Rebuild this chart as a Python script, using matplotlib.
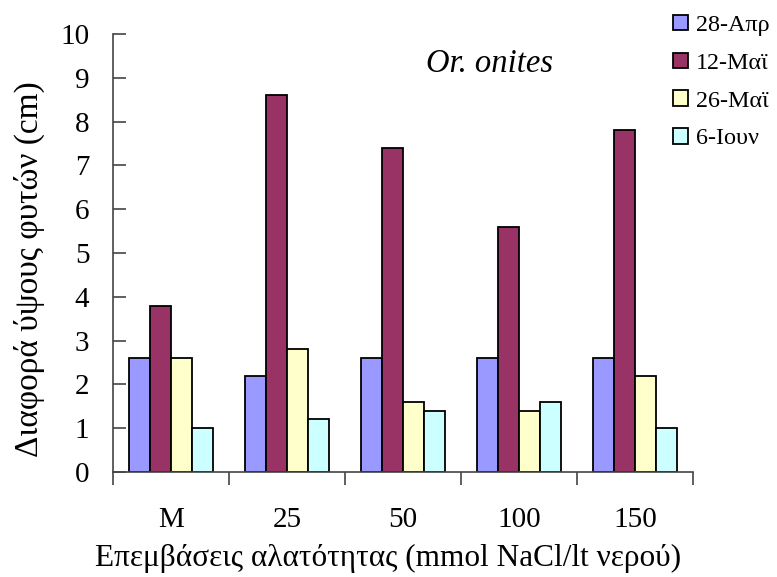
import matplotlib
matplotlib.use("Agg")
import matplotlib.pyplot as plt
import numpy as np
from matplotlib.ticker import FixedLocator

categories = ["M", "25", "50", "100", "150"]
series_names = ["28-Απρ", "12-Μαϊ", "26-Μαϊ", "6-Ιουν"]
apr28 = [2.6, 2.2, 2.6, 2.6, 2.6]
may12 = [3.8, 8.6, 7.4, 5.6, 7.8]
may26 = [2.6, 2.8, 1.6, 1.4, 2.2]
jun6 = [1.0, 1.2, 1.4, 1.6, 1.0]
colors = ["#9999FF", "#993366", "#FFFFCC", "#CCFFFF"]

plt.rcParams['font.family'] = ['Liberation Serif', 'DejaVu Serif']

fig = plt.figure(figsize=(7.77, 5.77), dpi=100)
ax = fig.add_axes([113/777, 1-472/577, 580/777, (472-34)/577])

x = np.arange(len(categories))
w = 0.181
series = [apr28, may12, may26, jun6]
handles = []
for i, (vals, c, name) in enumerate(zip(series, colors, series_names)):
    b = ax.bar(x + (i - 1.5) * w, vals, width=w, color=c, edgecolor="black",
               linewidth=1.3, label=name)
    handles.append(b)

ax.set_xlim(-0.5, 4.5)
ax.set_ylim(0, 10)
ax.set_yticks(range(0, 11))
ax.set_xticks(x)
ax.set_xticklabels(categories)
ax.xaxis.set_minor_locator(FixedLocator(np.arange(-0.5, 5.0, 1.0)))
ax.tick_params(axis='x', which='major', length=0, labelsize=21, pad=25)
ax.tick_params(axis='x', which='minor', length=9, width=1.2, direction='out', color='#444444')
ax.tick_params(axis='y', length=9, width=1.2, direction='in', labelsize=21, pad=17, color='#444444')

for s in ['top', 'right']:
    ax.spines[s].set_visible(False)
for s in ['left', 'bottom']:
    ax.spines[s].set_linewidth(1.2)
    ax.spines[s].set_color('#444444')

ax.set_ylabel("Διαφορά ύψους φυτών (cm)", fontsize=24)
ax.yaxis.set_label_coords(-0.118, 0.463)
ax.set_xlabel("Επεμβάσεις αλατότητας (mmol NaCl/lt νερού)", fontsize=22.5, labelpad=8)
ax.xaxis.label.set_x(0.475)

ax.text(2.75, 9.33, "Or. onites", fontsize=23.5, style='italic', ha='center', va='center')

fig.legend(handles=handles, labels=series_names, loc='upper left',
           bbox_to_anchor=(651/777, 1 + 7/577), frameon=False, fontsize=17.4,
           handlelength=0.62, handleheight=0.62, handletextpad=0.35, labelspacing=0.68)

fig.savefig("out.png", dpi=100)
